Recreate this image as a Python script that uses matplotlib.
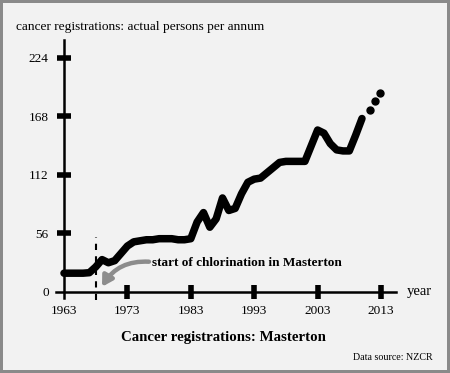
import matplotlib.pyplot as plt
import numpy as np

plt.rcParams['font.family'] = ['Liberation Serif', 'DejaVu Serif']

# annual registrations
years = np.arange(1963, 2011)
persons = [18, 18, 18, 18, 18.5, 24, 31, 28, 30, 37,
           44, 48, 49, 50, 50, 51, 51, 51, 50, 50,
           51, 67, 76, 62, 70, 90, 78, 80, 94, 105,
           108, 109, 114, 119, 124, 125, 125, 125, 125, 140,
           155, 152, 142, 136, 135, 135, 150, 166]
# dotted projection at the end
proj_years = [2011.3, 2012.1, 2012.8]
proj_persons = [174, 183, 190]

ytick_vals = [56, 112, 168, 224]
xtick_vals = [1973, 1983, 1993, 2003, 2013]
chlorination_year = 1968

W, H = 450, 373
fig = plt.figure(figsize=(W / 100, H / 100), dpi=100)
fig.patch.set_facecolor('#f2f2f2')
fig.patch.set_edgecolor('#8a8a8a')
fig.patch.set_linewidth(3)

# px/unit from picture
px_year = 6.34
px_val = 1.045
x0_px, y0_px = 64, 292
left_px, right_px, top_px, bot_px = 56, 396, 40, 298
ax = fig.add_axes([left_px / W, 1 - bot_px / H,
                   (right_px - left_px) / W, (bot_px - top_px) / H])
ax.set_facecolor('none')
ax.set_xlim(1963 - (x0_px - left_px) / px_year, 1963 + (right_px - x0_px) / px_year)
ax.set_ylim(-(bot_px - y0_px) / px_val, (y0_px - top_px) / px_val)

for s in ['top', 'right']:
    ax.spines[s].set_visible(False)
ax.spines['left'].set_position(('data', 1963))
ax.spines['bottom'].set_position(('data', 0))
for s in ['left', 'bottom']:
    ax.spines[s].set_linewidth(1.8)

ax.set_yticks(ytick_vals, labels=[str(v) for v in ytick_vals])
ax.set_yticks([0], labels=['0'], minor=True)
ax.set_xticks(xtick_vals, labels=[str(v) for v in xtick_vals])
ax.set_xticks([1963], labels=['1963'], minor=True)
ax.tick_params(which='major', direction='inout', length=10, width=4,
               labelsize=9.5, pad=4)
ax.tick_params(axis='y', which='major', pad=6)
ax.tick_params(which='minor', length=0, labelsize=9.5)
ax.tick_params(axis='y', which='minor', pad=11)
ax.tick_params(axis='x', which='minor', pad=9)

ax.plot(years, persons, color='black', lw=5.4, solid_joinstyle='round',
        solid_capstyle='round', clip_on=False, zorder=3)
ax.plot(proj_years, proj_persons, 'o', color='black', ms=5, clip_on=False)

ax.plot([chlorination_year, chlorination_year], [-8, 53], color='black',
        lw=1.5, ls=(0, (3, 3)), clip_on=False)

ax.annotate('', xy=(1969.0, 5), xytext=(1976.4, 29),
            arrowprops=dict(arrowstyle='-|>,head_length=0.6,head_width=0.35',
                            color='#8c8c8c', lw=3.2,
                            connectionstyle='arc3,rad=0.3',
                            shrinkA=0, shrinkB=0))
ax.text(1976.9, 28, 'start of chlorination in Masterton', fontsize=9.5,
        fontweight='bold', va='center', ha='left')

fig.text(16 / W, 1 - 27 / H, 'cancer registrations: actual persons per annum',
         fontsize=9.6, va='center', ha='left')
fig.text(407 / W, 1 - 291 / H, 'year', fontsize=10.5, va='center', ha='left')
fig.text(223 / W, 1 - 338 / H, 'Cancer registrations: Masterton',
         fontsize=10.7, fontweight='bold', va='center', ha='center')
fig.text(433 / W, 1 - 357 / H, 'Data source: NZCR', fontsize=7.2,
         va='center', ha='right')

fig.savefig('out.png', dpi=100, facecolor=fig.get_facecolor(),
            edgecolor=fig.get_edgecolor())
